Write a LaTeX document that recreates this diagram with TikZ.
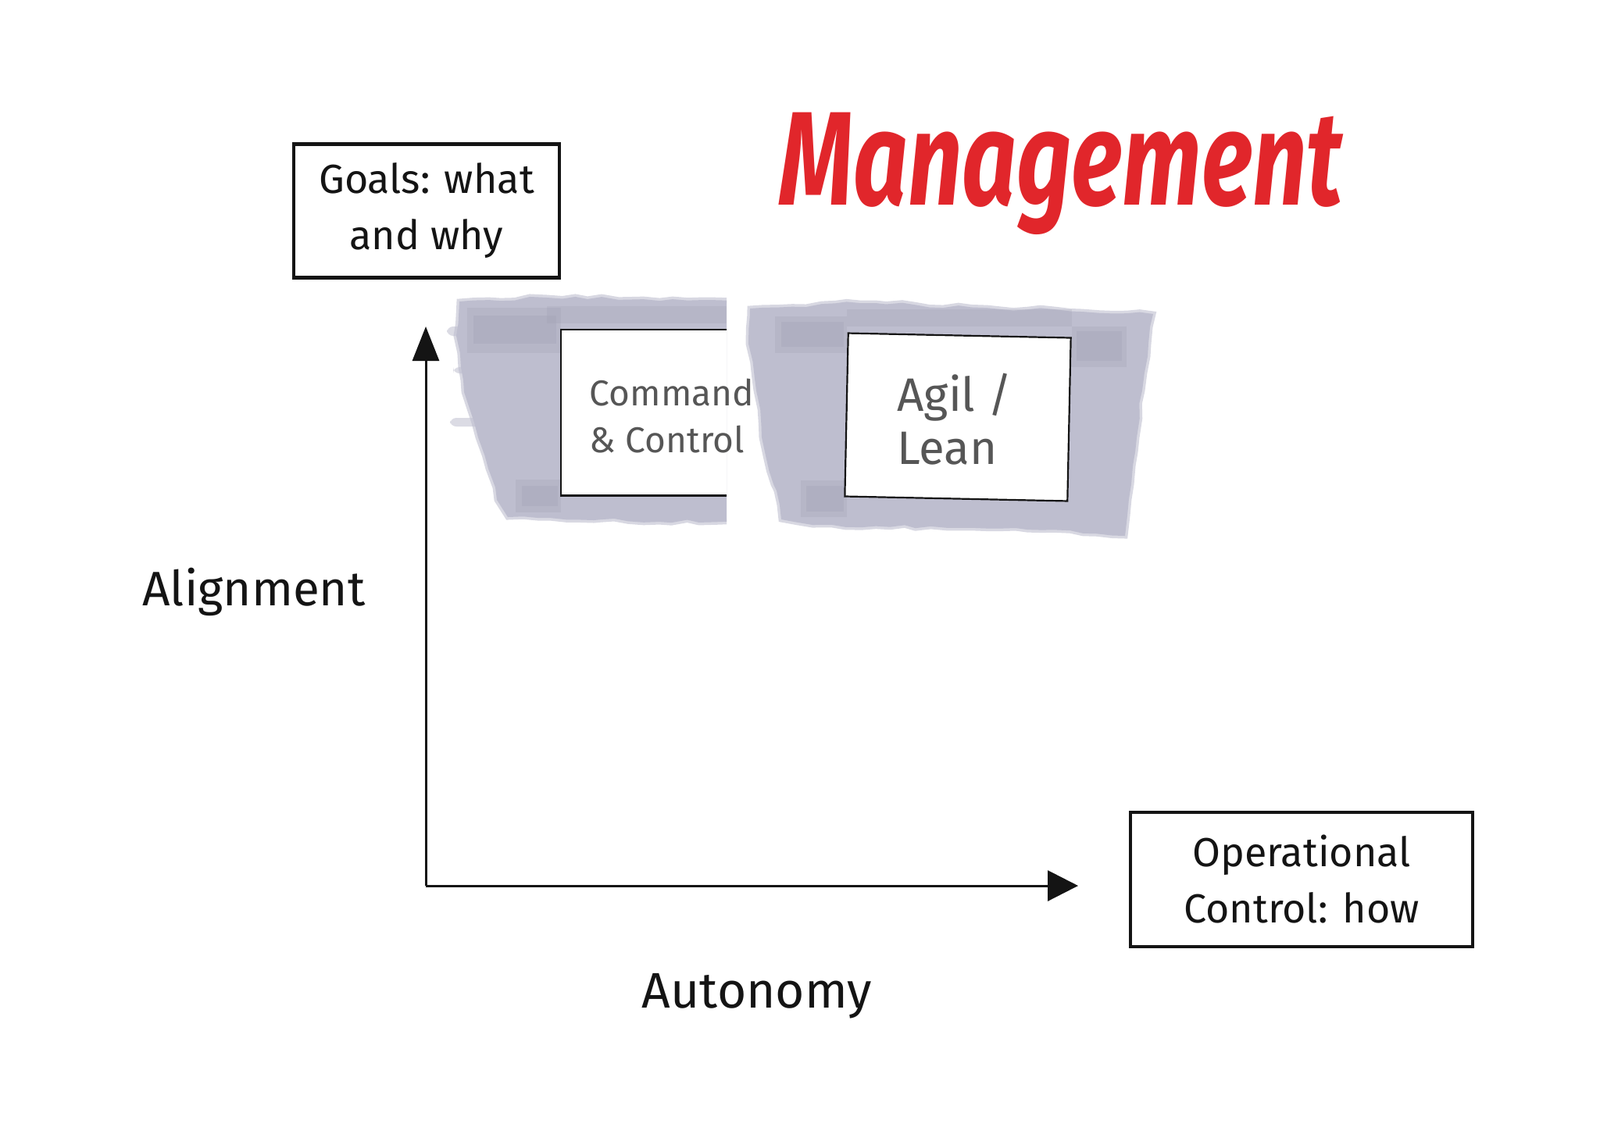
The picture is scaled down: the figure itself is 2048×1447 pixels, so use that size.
\documentclass[tikz,border=0pt]{standalone}
\usepackage{fontspec}
\setmainfont{Fira Sans}
\usetikzlibrary{arrows.meta,decorations.pathmorphing}
\definecolor{ink}{HTML}{141414}
\definecolor{pencil}{HTML}{565656}
\definecolor{bandc}{HTML}{BEBECF}
\definecolor{banddark}{HTML}{9A9AAE}
\definecolor{mgmt}{HTML}{E1262B}
\begin{document}
\begin{tikzpicture}[x=0.5pt,y=-0.5pt,
  handbox/.style={draw=ink, line width=2.4pt, fill=white, inner sep=0pt, align=center,
    font=\fontsize{26}{36}\selectfont, text=ink},
  paperbox/.style={fill=white, inner sep=0pt},
  thinline/.style={draw=ink, line width=1.1pt},
  greytext/.style={text=pencil, align=left, inner sep=0pt},
  axislabel/.style={text=ink, inner sep=0pt, font=\fontsize{31}{36}\selectfont},
  bandfill/.style={fill=bandc, draw=bandc, draw opacity=0.6, line width=3.5pt,
    decorate, decoration={random steps, segment length=9pt, amplitude=1.2pt}},
  patch/.style={fill=banddark, opacity=0.22},
  streak/.style={fill=bandc, opacity=0.55, rounded corners=4pt},
  axisline/.style={draw=ink, line width=1.5pt}
]
\useasboundingbox (0,0) rectangle (2048,1447);
\fill[white] (0,0) rectangle (2048,1447);

% ---------- grey marker bands ----------
\begin{scope}
\clip (0,0) rectangle (930,1447);
\path[bandfill] (588,386) -- (700,381) -- (950,386) -- (950,668) -- (760,666) -- (650,662)
  -- (636,640) -- (625,600) -- (612,560) -- (600,520) -- (590,470) -- (584,430) -- cycle;
\path[streak] (572,418) rectangle (640,430);
\path[streak] (576,535) rectangle (640,546);
\path[streak] (580,470) rectangle (640,478);
\fill[patch] (598,394) rectangle (718,452);
\fill[patch] (606,404) rectangle (712,440);
\fill[patch] (660,614) rectangle (718,656);
\fill[patch] (668,622) rectangle (714,648);
\fill[patch] (700,392) rectangle (930,414);
\end{scope}

\path[bandfill] (960,395) -- (1100,388) -- (1476,402) -- (1470,440) -- (1462,500) -- (1455,560)
  -- (1448,620) -- (1443,660) -- (1440,686) -- (1300,676) -- (1040,672) -- (1000,665)
  -- (990,620) -- (975,560) -- (968,500) -- (958,440) -- cycle;
\fill[patch] (992,405) rectangle (1084,452);
\fill[patch] (1000,412) rectangle (1080,444);
\fill[patch] (1025,615) rectangle (1084,662);
\fill[patch] (1032,622) rectangle (1080,655);
\fill[patch] (1372,418) rectangle (1442,470);
\fill[patch] (1378,424) rectangle (1436,462);
\fill[patch] (1084,396) rectangle (1372,418);

% ---------- white cards ----------
\node[paperbox, minimum width=106pt, minimum height=106pt] (cmdcard) at (824,528) {};
\draw[thinline] (cmdcard.north east) -- (cmdcard.north west) -- (cmdcard.south west) -- (cmdcard.south east);
\node[paperbox, thinline, rotate=-1.2, minimum width=142.5pt, minimum height=104.5pt] (agilcard) at (1226,534) {};

\node[greytext, font=\fontsize{23}{30}\selectfont] (cmdtext) at (860,533) {Command\\\& Control};
\node[greytext, font=\fontsize{30}{34}\selectfont] (agiltext) at (1222,537) {Agil /\\Lean};

% ---------- title ----------
\node[text=mgmt, inner sep=0pt, font=\fontsize{61}{66}\selectfont\bfseries\itshape] (title) at (1358,222)
  {\scalebox{1}[1.4]{Management}};

% ---------- boxes ----------
\node[handbox, minimum width=170pt, minimum height=85.5pt] (goals) at (546,270) {Goals: what\\and why};
\node[handbox, minimum width=219pt, minimum height=86pt] (oper) at (1666,1126) {Operational\\Control: how};

% ---------- axes ----------
\coordinate (origin) at (545,1134);
\coordinate (ytip) at (545,418);
\coordinate (xtip) at (1380,1134);
\draw[axisline, -{Triangle[length=22pt, width=17pt]}] (origin) -- (ytip);
\draw[axisline, -{Triangle[length=19.5pt, width=19.5pt]}] (origin) -- (xtip);

\node[axislabel] (align) at (325,758) {Alignment};
\node[axislabel, font=\fontsize{32}{36}\selectfont] (auton) at (969,1275) {Autonomy};
\end{tikzpicture}
\end{document}
